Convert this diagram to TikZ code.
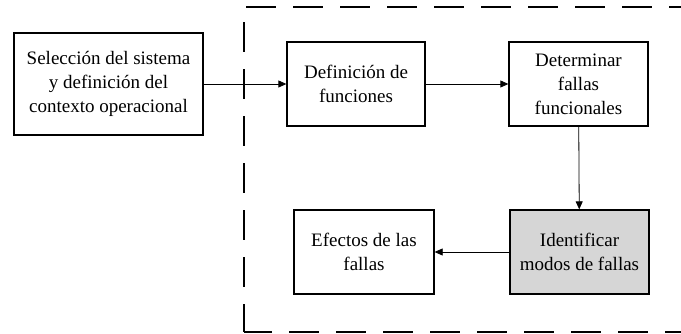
\documentclass[tikz,border=0pt]{standalone}
\usepackage{fontspec}
\setmainfont{Liberation Serif}
\usetikzlibrary{arrows.meta}

\begin{document}
\begin{tikzpicture}[x=1pt,y=-1pt]

\tikzset{caja/.style = {shape=rectangle,draw,line width=1.3pt,align=center,inner sep=0pt,font=\fontsize{19}{24}\selectfont}}
\tikzset{flecha/.style = {-{Triangle[length=8pt,width=7pt]},line width=0.8pt}}
\tikzset{borde/.style = {line width=2pt,dash pattern=on 30pt off 17pt,dash phase=2pt}}

\useasboundingbox (0,0) rectangle (681,334);
\clip (0,0) rectangle (681,334);

\node[caja,minimum width=189pt,minimum height=102pt] (sel) at (108.5,84) {Selección del sistema\\y definición del\\contexto operacional};
\node[caja,minimum width=138pt,minimum height=84pt] (fun) at (356,84) {Definición de\\funciones};
\node[caja,minimum width=139pt,minimum height=84pt] (det) at (578.5,84) {Determinar\\fallas\\funcionales};
\node[caja,minimum width=139pt,minimum height=84pt,fill=black!16] (iden) at (579.5,252) {Identificar\\modos de fallas};
\node[caja,minimum width=140pt,minimum height=84pt] (efe) at (364,252) {Efectos de las\\fallas};

% recuadro discontinuo
\draw[borde] (244,332) -- (244,7) -- (700,7);
\draw[borde] (244,332) -- (700,332);

\draw[flecha] (sel) -- (fun);
\draw[flecha] (fun) -- (det);
\draw[flecha] (det) -- (iden);
\draw[flecha] (iden) -- (efe);

\end{tikzpicture}
\end{document}
